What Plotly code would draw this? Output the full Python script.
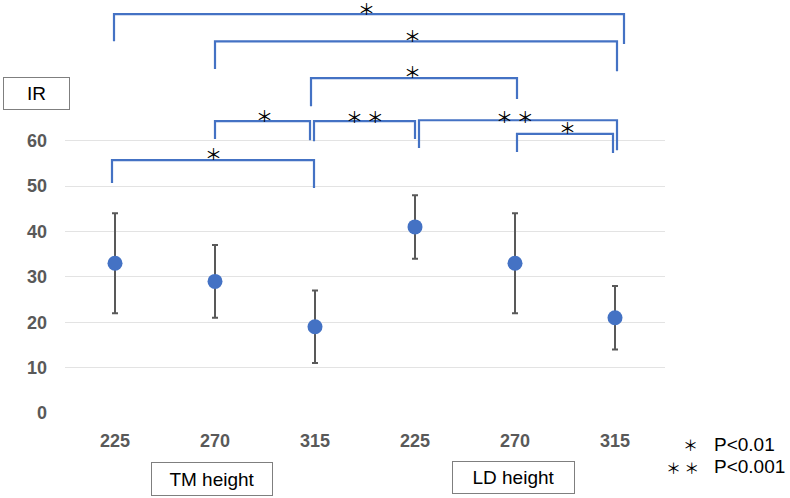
import plotly.graph_objects as go

categories = ["225", "270", "315", "225", "270", "315"]
means = [33, 29, 19, 41, 33, 21]
upper = [44, 37, 27, 48, 44, 28]
lower = [22, 21, 11, 34, 22, 14]
y_ticks = [0, 10, 20, 30, 40, 50, 60]

# significance brackets: x_left, x_right, y_top, y_left_end, y_right_end, label, label_x, label_y
brackets = [
    (-0.01, 5.09, 87.9, 81.9, 81.3, "＊", 2.51, 89.3),
    (1.00, 5.02, 81.9, 75.8, 75.3, "＊", 2.97, 83.3),
    (1.96, 4.02, 73.8, 67.6, 69.2, "＊", 2.97, 75.3),
    (1.00, 1.95, 64.3, 60.4, 60.1, "＊", 1.49, 65.7),
    (1.99, 3.00, 64.3, 59.9, 60.4, "＊ ＊", 2.50, 65.5),
    (3.04, 5.02, 64.5, 58.4, 57.9, "＊ ＊", 4.00, 65.5),
    (4.02, 4.98, 61.5, 57.5, 57.3, "＊", 4.52, 63.0),
    (-0.03, 1.99, 55.7, 50.7, 49.6, "＊", 0.98, 57.3),
]

x = list(range(len(categories)))
err_plus = [u - m for u, m in zip(upper, means)]
err_minus = [m - l for m, l in zip(means, lower)]

fig = go.Figure()
fig.add_trace(go.Scatter(
    x=x, y=means, mode="markers",
    marker=dict(color="#4472C4", size=15),
    error_y=dict(type="data", symmetric=False, array=err_plus, arrayminus=err_minus,
                 color="#595959", thickness=2, width=3),
    showlegend=False, cliponaxis=False,
))

BLUE = "#4472C4"
star_font = dict(family="Noto Sans CJK JP", size=17, color="#000000")
for xl, xr, yt, yl, yr, lab, lx, ly in brackets:
    fig.add_shape(type="path",
                  path=f"M {xl} {yl} L {xl} {yt} L {xr} {yt} L {xr} {yr}",
                  xref="x", yref="y", line=dict(color=BLUE, width=2.2))
    fig.add_annotation(x=lx, y=ly, xref="x", yref="y", text=lab, showarrow=False,
                       font=star_font, xanchor="center", yanchor="middle",
                       height=14, valign="middle")

L, R, T, B = 65, 665, 0, 413
def px(xp):
    return (xp - L) / (R - L)
def py(yp):
    return (B - yp) / (B - T)

box_font = dict(family="Liberation Sans", size=19, color="#000000")
fig.add_annotation(x=px(36.5), y=py(93.5), xref="paper", yref="paper", text="IR",
                   showarrow=False, font=box_font, width=65, height=31,
                   bordercolor="#7f7f7f", borderwidth=1, borderpad=0,
                   xanchor="center", yanchor="middle")
lab_font = dict(family="Liberation Sans", size=19, color="#000000")
fig.add_annotation(x=px(212), y=py(479), xref="paper", yref="paper", text="TM height",
                   showarrow=False, font=lab_font, width=120, height=32,
                   bordercolor="#7f7f7f", borderwidth=1, borderpad=0,
                   xanchor="center", yanchor="middle")
fig.add_annotation(x=px(513.5), y=py(477.5), xref="paper", yref="paper", text="LD height",
                   showarrow=False, font=lab_font, width=121, height=31,
                   bordercolor="#7f7f7f", borderwidth=1, borderpad=0,
                   xanchor="center", yanchor="middle")

leg_font = dict(family="Liberation Sans", size=19, color="#000000")
leg_star = dict(family="Noto Sans CJK JP", size=15, color="#000000")
fig.add_annotation(x=px(691), y=py(444), xref="paper", yref="paper", text="＊",
                   showarrow=False, font=leg_star, xanchor="center", yanchor="middle")
fig.add_annotation(x=px(712), y=py(444.5), xref="paper", yref="paper", text="P<0.01",
                   showarrow=False, font=leg_font, xanchor="left", yanchor="middle")
fig.add_annotation(x=px(682.5), y=py(467), xref="paper", yref="paper", text="＊ ＊",
                   showarrow=False, font=leg_star, xanchor="center", yanchor="middle")
fig.add_annotation(x=px(712), y=py(466.5), xref="paper", yref="paper", text="P<0.001",
                   showarrow=False, font=leg_font, xanchor="left", yanchor="middle")

tick_font = dict(family="Liberation Sans", size=18, color="#595959", weight="bold")
fig.update_xaxes(range=[-0.5, 5.5], tickvals=x, ticktext=categories,
                 showgrid=False, zeroline=False, showline=False,
                 tickfont=tick_font, ticks="", ticklabelstandoff=15)
fig.update_yaxes(range=[0, 91], tickvals=y_ticks, showgrid=True, gridcolor="#e3e3e3",
                 gridwidth=1, zeroline=False, showline=False, tickfont=tick_font,
                 ticks="", ticklabelstandoff=17)

fig.update_layout(width=790, height=498, margin=dict(l=L, r=790 - R, t=T, b=498 - B),
                  plot_bgcolor="white", paper_bgcolor="white", showlegend=False)

fig.write_html("out.html")
